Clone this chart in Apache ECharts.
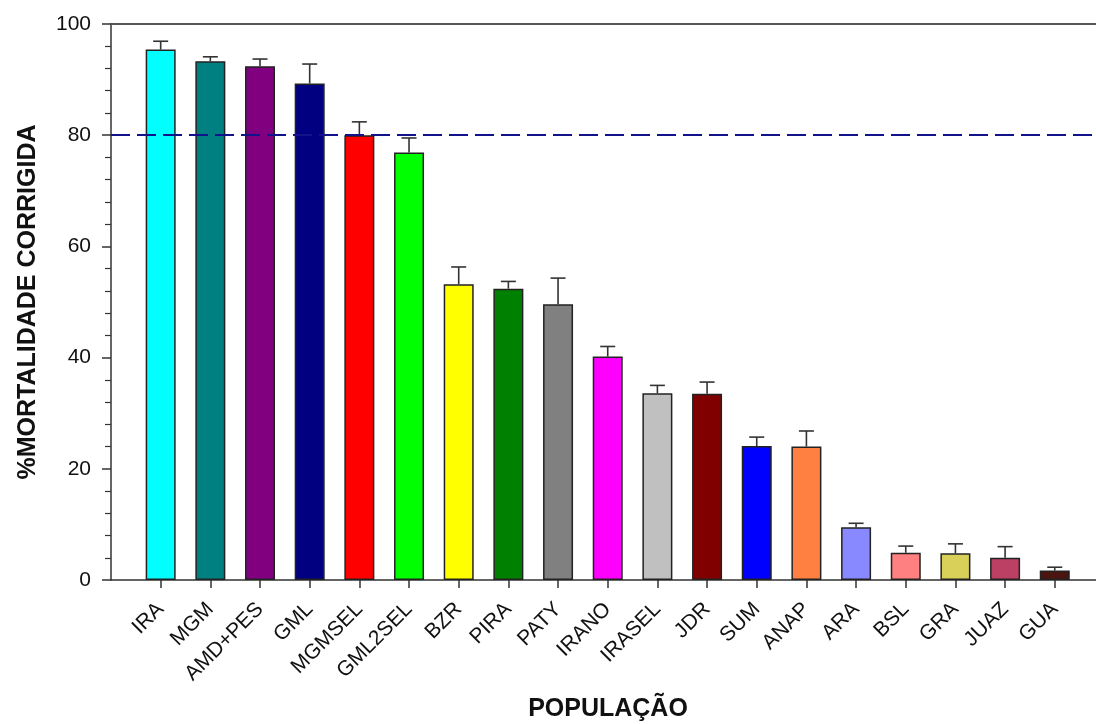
<!DOCTYPE html>
<html>
<head>
<meta charset="utf-8">
<script src="https://cdn.jsdelivr.net/npm/echarts@6/dist/echarts.min.js"></script>
<style>
html,body{margin:0;padding:0;background:#fff;}
#chart{width:1096px;height:724px;}
</style>
</head>
<body>
<div id="chart"></div>
<script>
const categories = ['IRA','MGM','AMD+PES','GML','MGMSEL','GML2SEL','BZR','PIRA','PATY','IRANO','IRASEL','JDR','SUM','ANAP','ARA','BSL','GRA','JUAZ','GUA'];
const mortality = [95.4, 93.3, 92.4, 89.3, 80.0, 76.9, 53.2, 52.4, 49.6, 40.2, 33.6, 33.5, 24.1, 24.0, 9.5, 4.9, 4.8, 4.0, 1.7];
const errorUp = [1.5, 0.8, 1.3, 3.5, 2.4, 2.6, 3.1, 1.3, 4.7, 1.8, 1.4, 2.1, 1.6, 2.8, 0.7, 1.2, 1.7, 2.0, 0.6];
const barColors = ['#00FFFF','#008080','#800080','#000080','#FF0000','#00FF00','#FFFF00','#008000','#808080','#FF00FF','#C0C0C0','#800000','#0000FF','#FF8040','#8888FF','#FF8080','#D8D058','#BC4064','#4A1410'];
const threshold = 80;
const yTicks = [0, 20, 40, 60, 80, 100];
// x positions: category i sits at i+1; the visible axis runs a little past the last slot
const xMin = 0;
const xMax = 19.83;

const barData = mortality.map((v, i) => ({
  value: [i + 1, v],
  itemStyle: {color: barColors[i]}
}));
const errData = mortality.map((v, i) => [i + 1, v, errorUp[i]]);

const chart = echarts.init(document.getElementById('chart'));
const FONT = '"Liberation Sans", Arial, sans-serif';

function catLabel(val) {
  const r = Math.round(val);
  if (Math.abs(val - r) > 1e-6 || r < 1 || r > categories.length) return '';
  return categories[r - 1];
}

chart.setOption({
  animation: false,
  backgroundColor: '#ffffff',
  grid: {left: 111, top: 24, right: 0, bottom: 144, containLabel: false},
  xAxis: [{
    type: 'value',
    min: xMin,
    max: xMax,
    interval: 1,
    position: 'bottom',
    axisLine: {lineStyle: {color: '#333', width: 1.5}},
    axisTick: {show: true, length: 8, lineStyle: {color: '#333', width: 1.5},
      interval: function (idx, val) { return catLabel(Number(val)) !== ''; }},
    axisLabel: {rotate: 45, fontSize: 21, color: '#111', fontFamily: FONT, margin: 26,
      formatter: function (val) { return catLabel(val); }, showMinLabel: false, showMaxLabel: false},
    splitLine: {show: false}
  }, {
    type: 'value',
    min: xMin,
    max: xMax,
    position: 'top',
    axisLine: {show: true, lineStyle: {color: '#555', width: 2}},
    axisTick: {show: false},
    axisLabel: {show: false},
    splitLine: {show: false}
  }],
  yAxis: {
    type: 'value',
    min: yTicks[0],
    max: yTicks[yTicks.length - 1],
    interval: 20,
    axisLine: {show: true, lineStyle: {color: '#333', width: 1.5}},
    axisTick: {show: true, length: 9, lineStyle: {color: '#333', width: 1.5}},
    minorTick: {show: true, splitNumber: 5, length: 6, lineStyle: {color: '#333', width: 1.2}},
    axisLabel: {fontSize: 21, color: '#111', fontFamily: FONT, margin: 20},
    splitLine: {show: false}
  },
  series: [{
    type: 'bar',
    data: barData,
    barWidth: 30,
    itemStyle: {borderColor: '#222', borderWidth: 1.5},
    markLine: {
      silent: true,
      symbol: ['none', 'none'],
      label: {show: false},
      lineStyle: {color: '#12128a', width: 2.2, type: [19, 7]},
      data: [{yAxis: threshold}]
    },
    z: 2
  }, {
    type: 'custom',
    data: errData,
    z: 1,
    renderItem: function (params, api) {
      const x = api.value(0), v = api.value(1), e = api.value(2);
      const p0 = api.coord([x, v]);
      const p1 = api.coord([x, v + e]);
      const half = 7.5;
      const style = {stroke: '#333', lineWidth: 1.6};
      return {
        type: 'group',
        children: [
          {type: 'line', shape: {x1: p0[0], y1: p0[1], x2: p1[0], y2: p1[1]}, style: style},
          {type: 'line', shape: {x1: p1[0] - half, y1: p1[1], x2: p1[0] + half, y2: p1[1]}, style: style}
        ]
      };
    }
  }],
  graphic: [{
    type: 'text',
    x: 608,
    y: 697,
    style: {text: 'POPULAÇÃO', font: 'bold 25px ' + FONT, fill: '#111',
      textAlign: 'center', textVerticalAlign: 'top'}
  }, {
    type: 'text',
    rotation: Math.PI / 2,
    x: 16,
    y: 302,
    style: {text: '%MORTALIDADE CORRIGIDA', font: 'bold 25px ' + FONT, fill: '#111',
      textAlign: 'center', textVerticalAlign: 'top'}
  }]
});
</script>
</body>
</html>
